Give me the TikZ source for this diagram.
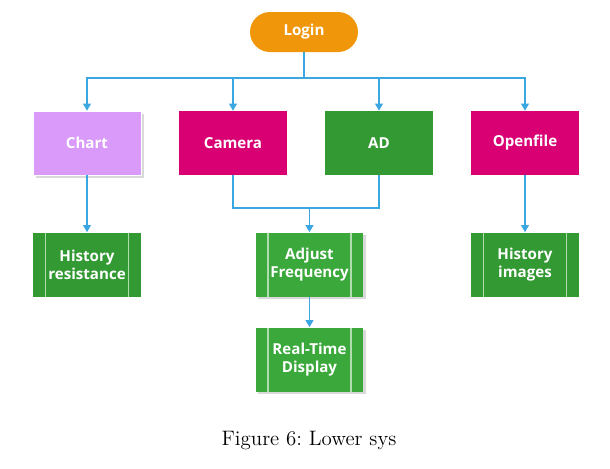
\documentclass[tikz,border=0pt]{standalone}
\usepackage{fontspec}
\newfontfamily\boxfont{Open Sans}
\usepackage{tikz}
\usetikzlibrary{positioning,arrows.meta,shadows}

\definecolor{loginorange}{HTML}{F0960A}
\definecolor{chartpurple}{HTML}{D99AF9}
\definecolor{magentabox}{HTML}{D80073}
\definecolor{adgreen}{HTML}{339933}
\definecolor{procgreen}{HTML}{3AA83A}
\definecolor{linkblue}{HTML}{3BA7E0}

\begin{document}
\begin{tikzpicture}[x=0.02cm, y=-0.02cm,
  box/.style={rectangle, minimum width=2.16cm, minimum height=1.28cm, inner sep=0pt,
    text=white, align=center, font=\boxfont\bfseries\fontsize{8.6}{10.4}\selectfont},
  shadowed/.style={drop shadow={shadow xshift=1.6pt, shadow yshift=-1.6pt,
    opacity=0.3, fill=black!50}},
  procbox/.style={box, path picture={
    \draw[white!60!procgreen, line width=0.6pt]
      ([xshift=0.25cm]path picture bounding box.north west) --
      ([xshift=0.25cm]path picture bounding box.south west)
      ([xshift=-0.25cm]path picture bounding box.north east) --
      ([xshift=-0.25cm]path picture bounding box.south east);}},
  link/.style={draw=linkblue, line width=0.6pt},
  arr/.style={link, -{Triangle[width=4.5pt,length=4pt]}}]
  \useasboundingbox (0,0) rectangle (610,468);

  % Top
  \node[box, rounded corners=0.4cm, minimum height=0.8cm, fill=loginorange] (login) at (304,32) {Login};

  % First level
  \node[box, fill=chartpurple, draw=white, shadowed] (chart) at (87,143) {Chart};
  \node[box, fill=magentabox] (camera) at (233,143) {Camera};
  \node[box, fill=adgreen] (ad) at (379,143) {AD};
  \node[box, fill=magentabox] (openfile) at (525,143) {Openfile};

  % Second level
  \node[procbox, fill=adgreen] (histres) at (87,264.5) {History\\resistance};
  \node[procbox, fill=procgreen, shadowed] (adjust) at (309.5,264.5) {Adjust\\Frequency};
  \node[procbox, fill=adgreen] (histimg) at (525,264.5) {History\\images};
  \node[procbox, fill=procgreen, shadowed] (realtime) at (309.5,359.5) {Real-Time\\Display};

  % Connectors
  \coordinate (split) at (304,78);
  \coordinate (merge) at (309.5,208);
  \draw[link] (login) -- (split);
  \foreach \n in {chart,camera,ad,openfile}
    \draw[arr] (split) -| (\n);
  \draw[arr] (chart) -- (histres);
  \draw[link] (camera) |- (merge);
  \draw[link] (ad) |- (merge);
  \draw[arr] (merge) -- (adjust);
  \draw[arr] (adjust) -- (realtime);
  \draw[arr] (openfile) -- (histimg);

  % Caption
  \node[font=\fontsize{11.9}{14}\selectfont] (caption) at (309,440) {Figure 6:\ Lower sys};
\end{tikzpicture}
\end{document}
